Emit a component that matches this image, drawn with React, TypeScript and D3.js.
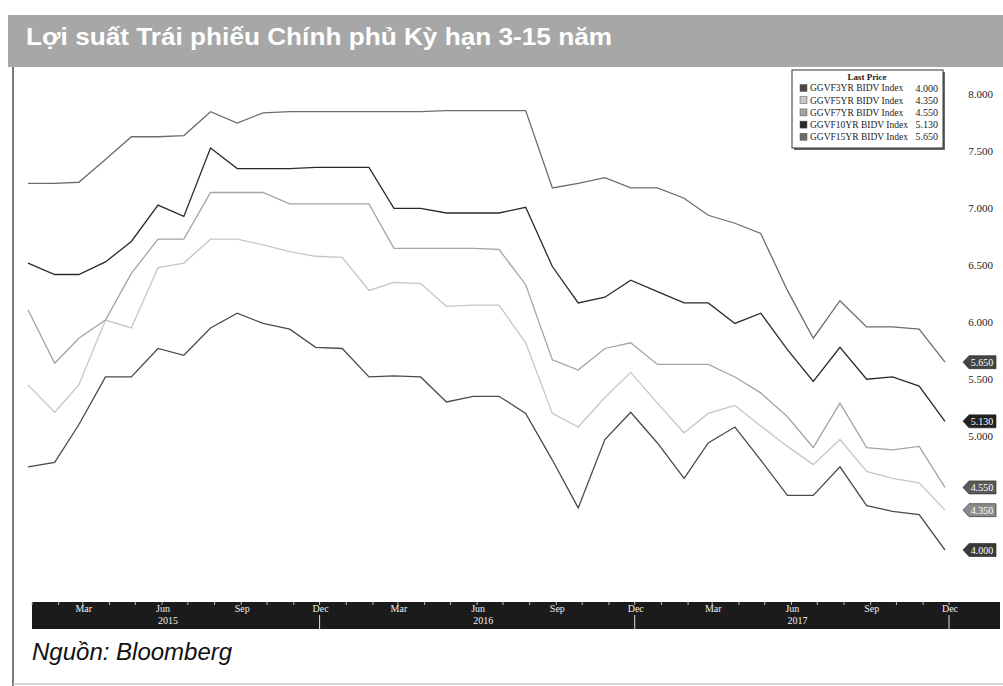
import { scaleLinear, scaleTime, line, timeMonth, timeFormat, format } from "d3";

// monthly points, Jan 2015 .. Dec 2017
const months = timeMonth.range(new Date(2015, 0, 1), new Date(2018, 0, 1));

const yield3 = [4.73, 4.77, 5.10, 5.52, 5.52, 5.77, 5.71, 5.95, 6.08, 5.99, 5.94, 5.78, 5.77, 5.52, 5.53, 5.52, 5.30, 5.35, 5.35, 5.20, 4.79, 4.37, 4.97, 5.21, 4.94, 4.63, 4.94, 5.08, 4.79, 4.48, 4.48, 4.73, 4.39, 4.34, 4.31, 4.00];
const yield5 = [5.45, 5.21, 5.45, 6.02, 5.95, 6.48, 6.52, 6.73, 6.73, 6.68, 6.62, 6.58, 6.57, 6.28, 6.35, 6.34, 6.14, 6.15, 6.15, 5.82, 5.20, 5.08, 5.34, 5.56, 5.29, 5.03, 5.20, 5.27, 5.09, 4.91, 4.75, 4.97, 4.69, 4.63, 4.59, 4.35];
const yield7 = [6.11, 5.64, 5.86, 6.02, 6.43, 6.73, 6.73, 7.14, 7.14, 7.14, 7.04, 7.04, 7.04, 7.04, 6.65, 6.65, 6.65, 6.65, 6.64, 6.33, 5.67, 5.58, 5.77, 5.82, 5.63, 5.63, 5.63, 5.52, 5.38, 5.17, 4.90, 5.29, 4.90, 4.88, 4.91, 4.55];
const yield10 = [6.52, 6.42, 6.42, 6.53, 6.71, 7.03, 6.93, 7.53, 7.35, 7.35, 7.35, 7.36, 7.36, 7.36, 7.00, 7.00, 6.96, 6.96, 6.96, 7.01, 6.49, 6.17, 6.22, 6.37, 6.27, 6.17, 6.17, 5.99, 6.08, 5.76, 5.48, 5.78, 5.50, 5.52, 5.44, 5.13];
const yield15 = [7.22, 7.22, 7.23, 7.43, 7.63, 7.63, 7.64, 7.85, 7.75, 7.84, 7.85, 7.85, 7.85, 7.85, 7.85, 7.85, 7.86, 7.86, 7.86, 7.86, 7.18, 7.22, 7.27, 7.18, 7.18, 7.09, 6.94, 6.87, 6.78, 6.28, 5.86, 6.19, 5.96, 5.96, 5.94, 5.65];

const seriesNames = ["GGVF3YR BIDV Index", "GGVF5YR BIDV Index", "GGVF7YR BIDV Index", "GGVF10YR BIDV Index", "GGVF15YR BIDV Index"];
const lastPrices = [4.0, 4.35, 4.55, 5.13, 5.65];
const lineColors = ["#4a4a4a", "#c6c6c6", "#a4a4a4", "#2a2a2a", "#6c6c6c"];
const tagColors = ["#3a3a3a", "#8c8c8c", "#5a5a5a", "#222222", "#454545"];

const yTicks = [8, 7.5, 7, 6.5, 6, 5.5, 5];
const yearLabels = ["2015", "2016", "2017"];

const title = "Lợi suất Trái phiếu Chính phủ Kỳ hạn 3-15 năm";
const source = "Nguồn: Bloomberg";

const allSeries = [yield3, yield5, yield7, yield10, yield15];
const drawOrder = [1, 2, 0, 4, 3];

export default function App() {
  const x = scaleTime().domain([months[0], months[months.length - 1]]).range([28, 945]);
  const y = scaleLinear().domain([4, 8]).range([550, 94.6]);
  const path = line<number>()
    .x((d, i) => x(months[i]))
    .y((d) => y(d));
  const fmt = format(".3f");
  const monthFmt = timeFormat("%b");
  const quarterMonths = months.filter((d) => d.getMonth() % 3 === 2);
  const serif = "'Liberation Serif', 'DejaVu Serif', serif";

  return (
    <svg width={1003} height={686} style={{ position: "absolute", left: 0, top: 0, background: "#fff" }}>
      {/* title bar */}
      <rect x={8} y={15} width={995} height={52} fill="#a7a7a7" />
      <text x={26} y={45} fill="#fff" fontFamily="'Liberation Sans', Arial, sans-serif" fontWeight="bold" fontSize={24}
        textLength={586} lengthAdjust="spacingAndGlyphs">{title}</text>

      {/* frame */}
      <line x1={13} x2={13} y1={67} y2={686} stroke="#7a7a7a" strokeWidth={2} />
      <line x1={13} x2={1003} y1={684} y2={684} stroke="#c8c8c8" strokeWidth={1.5} />

      {/* series */}
      {drawOrder.map((k) => (
        <path key={k} d={path(allSeries[k]) || ""} fill="none" stroke={lineColors[k]} strokeWidth={1.3} />
      ))}

      {/* time axis band */}
      <rect x={32} y={602} width={968} height={27} fill="#1b1b1b" />
      {months.map((m, i) => (
        <line key={i} x1={x(m) + 4} x2={x(m) + 4} y1={602} y2={605} stroke="#bbb" strokeWidth={1} />
      ))}
      {quarterMonths.map((m, i) => (
        <g key={i}>
          <text x={x(m) + 5} y={612} fill="#eee" fontFamily={serif} fontSize={10} textAnchor="middle">{monthFmt(m)}</text>
          {m.getMonth() === 11 && (
            <line x1={x(m) + 4} x2={x(m) + 4} y1={615} y2={629} stroke="#ddd" strokeWidth={1} />
          )}
          {m.getMonth() === 5 && (
            <text x={x(m) + 10} y={624} fill="#eee" fontFamily={serif} fontSize={10} textAnchor="middle">
              {yearLabels[m.getFullYear() - 2015]}
            </text>
          )}
        </g>
      ))}

      {/* right value axis */}
      {yTicks.map((t) => (
        <text key={t} x={993} y={y(t)} dy="0.35em" textAnchor="end" fontFamily={serif} fontSize={11} fill="#222">
          {fmt(t)}
        </text>
      ))}

      {/* last price tags */}
      {lastPrices.map((v, k) => {
        const yy = y(allSeries[k][allSeries[k].length - 1]);
        const x0 = 963;
        return (
          <g key={k}>
            <path d={`M${x0},${yy} L${x0 + 6},${yy - 6.5} L${x0 + 33},${yy - 6.5} L${x0 + 33},${yy + 6.5} L${x0 + 6},${yy + 6.5} Z`}
              fill={tagColors[k]} stroke="#222" strokeWidth={0.6} />
            <text x={x0 + 19} y={yy} dy="0.35em" textAnchor="middle" fontFamily={serif} fontSize={10} fill="#fff">
              {fmt(v)}
            </text>
          </g>
        );
      })}

      {/* legend */}
      <rect x={794} y={72} width={151} height={78} fill="#666" />
      <rect x={792} y={70} width={151} height={78} fill="#fff" stroke="#333" strokeWidth={1} />
      <text x={867} y={80} textAnchor="middle" fontFamily={serif} fontWeight="bold" fontSize={9} fill="#222">Last Price</text>
      {seriesNames.map((name, k) => (
        <g key={k} transform={`translate(0, ${88 + k * 12.2})`}>
          <rect x={800} y={-3.5} width={7} height={7} fill={lineColors[k]} stroke="#555" strokeWidth={0.5} />
          <text x={810} y={0} dy="0.35em" fontFamily={serif} fontSize={9.5} fill="#222">{name}</text>
          <text x={938} y={0} dy="0.35em" textAnchor="end" fontFamily={serif} fontSize={10} fill="#222">{fmt(lastPrices[k])}</text>
        </g>
      ))}

      {/* source */}
      <text x={32} y={660} fontFamily="'Liberation Sans', Arial, sans-serif" fontStyle="italic" fontSize={24} fill="#111">{source}</text>
    </svg>
  );
}
